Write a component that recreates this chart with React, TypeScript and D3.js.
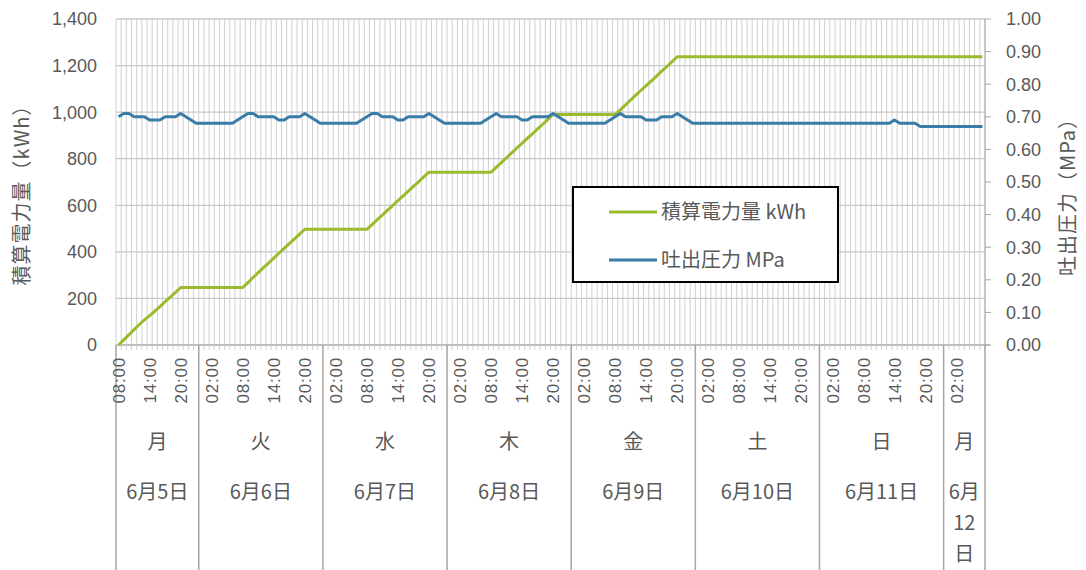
import React from "react";
import * as d3 from "d3";

// ---- data ----
const startHour = 8; // first category: 6/5 08:00, hourly categories
const hourLabels = ["00:00","01:00","02:00","03:00","04:00","05:00","06:00","07:00","08:00","09:00","10:00","11:00","12:00","13:00","14:00","15:00","16:00","17:00","18:00","19:00","20:00","21:00","22:00","23:00"];
const labeledHours = [2, 8, 14, 20];

const dayNames = ["月", "火", "水", "木", "金", "土", "日", "月"];
const dayDates = ["6月5日", "6月6日", "6月7日", "6月8日", "6月9日", "6月10日", "6月11日", "6月12日"];
const dayHours = [16, 24, 24, 24, 24, 24, 24, 8];

// 積算電力量 kWh (left axis)
const energyKWh = [
  0, 22, 44, 66, 88, 108, 126, 145, 165, 186, 206, 226, 247,
  247, 247, 247, 247, 247, 247, 247, 247, 247, 247, 247, 247,
  268, 290, 311, 332, 352, 373, 394, 415, 435, 456, 476, 497,
  497, 497, 497, 497, 497, 497, 497, 497, 497, 497, 497, 497,
  517, 538, 558, 579, 599, 620, 640, 661, 681, 701, 722, 742,
  742, 742, 742, 742, 742, 742, 742, 742, 742, 742, 742, 742,
  763, 783, 804, 825, 846, 866, 887, 907, 928, 948, 969, 990,
  990, 990, 990, 990, 990, 990, 990, 990, 990, 990, 990, 990,
  1010, 1031, 1052, 1073, 1094, 1114, 1134, 1155, 1176, 1196, 1217, 1238,
  1238, 1238, 1238, 1238, 1238, 1238, 1238, 1238, 1238, 1238, 1238, 1238,
  1238, 1238, 1238, 1238, 1238, 1238, 1238, 1238, 1238, 1238, 1238, 1238,
  1238, 1238, 1238, 1238, 1238, 1238, 1238, 1238, 1238, 1238, 1238, 1238,
  1238, 1238, 1238, 1238, 1238, 1238, 1238, 1238, 1238, 1238, 1238, 1238,
  1238, 1238, 1238, 1238, 1238, 1238, 1238, 1238, 1238, 1238, 1238,
];

// 吐出圧力 MPa (right axis)
const pressureMPa = [
  0.70, 0.71, 0.71, 0.70, 0.70, 0.70, 0.69, 0.69, 0.69, 0.70, 0.70, 0.70, 0.71, 0.70, 0.69,
  0.68, 0.68, 0.68, 0.68, 0.68, 0.68, 0.68, 0.68,
  0.69, 0.70, 0.71, 0.71, 0.70, 0.70, 0.70, 0.70, 0.69, 0.69, 0.70, 0.70, 0.70, 0.71, 0.70, 0.69,
  0.68, 0.68, 0.68, 0.68, 0.68, 0.68, 0.68, 0.68,
  0.69, 0.70, 0.71, 0.71, 0.70, 0.70, 0.70, 0.69, 0.69, 0.70, 0.70, 0.70, 0.70, 0.71, 0.70, 0.69,
  0.68, 0.68, 0.68, 0.68, 0.68, 0.68, 0.68, 0.68,
  0.69, 0.70, 0.71, 0.70, 0.70, 0.70, 0.70, 0.69, 0.69, 0.70, 0.70, 0.70, 0.70, 0.71, 0.70, 0.69,
  0.68, 0.68, 0.68, 0.68, 0.68, 0.68, 0.68, 0.68,
  0.69, 0.70, 0.71, 0.70, 0.70, 0.70, 0.70, 0.69, 0.69, 0.69, 0.70, 0.70, 0.70, 0.71, 0.70, 0.69,
  0.68, 0.68, 0.68, 0.68, 0.68, 0.68, 0.68, 0.68, 0.68, 0.68,
  0.68, 0.68, 0.68, 0.68, 0.68, 0.68, 0.68, 0.68, 0.68, 0.68,
  0.68, 0.68, 0.68, 0.68, 0.68, 0.68, 0.68, 0.68, 0.68, 0.68,
  0.68, 0.68, 0.68, 0.68, 0.68, 0.68, 0.68, 0.68, 0.68,
  0.69,
  0.68, 0.68, 0.68, 0.68,
  0.67, 0.67, 0.67, 0.67, 0.67, 0.67, 0.67, 0.67, 0.67, 0.67, 0.67, 0.67, 0.67,
];

const leftTicks = [0, 200, 400, 600, 800, 1000, 1200, 1400];
const rightTicks = [0, 0.1, 0.2, 0.3, 0.4, 0.5, 0.6, 0.7, 0.8, 0.9, 1.0];

const seriesNames = ["積算電力量 kWh", "吐出圧力 MPa"];
const leftTitle = "積算電力量（kWh）";
const rightTitle = "吐出圧力（MPa）";

// ---- style ----
const W = 1086, H = 570;
const plot = { left: 116, right: 985, top: 19, bottom: 345 };
const GREEN = "#9BBB2F";
const BLUE = "#3A7CA8";
const TEXT = "#595959";
const GRID = "#d0d0d0";
const HGRID = "#c8c8c8";
const AXIS = "#a6a6a6";
const NUM_FONT = "'Liberation Sans', 'Noto Sans CJK JP', sans-serif";
const CJK_FONT = "'Noto Sans CJK JP', 'Liberation Sans', sans-serif";

function wrapDate(s: string, maxW: number, fs: number): string[] {
  const tokens = s.match(/\d+|[^\d]/g) || [s];
  const tw = (t: string) => (/^\d+$/.test(t) ? t.length * fs * 0.55 : fs);
  const lines: string[] = [];
  let cur = "", curW = 0;
  for (const t of tokens) {
    const w = tw(t);
    if (cur && curW + w > maxW) { lines.push(cur); cur = t; curW = w; }
    else { cur += t; curW += w; }
  }
  if (cur) lines.push(cur);
  return lines;
}

export default function App() {
  const n = energyKWh.length;
  const x = d3.scaleLinear().domain([0, n]).range([plot.left, plot.right]);
  const yL = d3.scaleLinear().domain([0, 1400]).range([plot.bottom, plot.top]);
  const yR = d3.scaleLinear().domain([0, 1]).range([plot.bottom, plot.top]);

  const lineL = d3.line<number>().x((_, i) => x(i + 0.5)).y((d) => yL(d));
  const lineR = d3.line<number>().x((_, i) => x(i + 0.5)).y((d) => yR(d));

  const boundaries = d3.range(0, n + 1);
  const hourTicks = d3.range(0, n).filter((i) => labeledHours.includes((startHour + i) % 24));

  const dayStarts: number[] = [];
  let acc = 0;
  dayHours.forEach((h) => { dayStarts.push(acc); acc += h; });

  return (
    <svg width={W} height={H} style={{ position: "absolute", left: 0, top: 0, background: "#fff" }}>
      <rect x={0} y={0} width={W} height={H} fill="#fff" />
      {/* vertical gridlines */}
      {boundaries.map((b) => (
        <line key={"vg" + b} x1={x(b)} x2={x(b)} y1={plot.top} y2={plot.bottom} stroke={GRID} strokeWidth={1} />
      ))}
      {/* horizontal gridlines */}
      {leftTicks.map((t) => (
        <line key={"hg" + t} x1={plot.left} x2={plot.right} y1={yL(t)} y2={yL(t)} stroke={HGRID} strokeWidth={1.3} />
      ))}
      {/* x axis line with hourly ticks */}
      <line x1={plot.left} x2={plot.right + 5} y1={plot.bottom} y2={plot.bottom} stroke={AXIS} strokeWidth={1} />
      {boundaries.map((b) => (
        <line key={"xt" + b} x1={x(b)} x2={x(b)} y1={plot.bottom} y2={plot.bottom + 5} stroke={GRID} strokeWidth={1} />
      ))}
      {/* right axis */}
      <line x1={plot.right} x2={plot.right} y1={plot.top} y2={plot.bottom} stroke={AXIS} strokeWidth={1} />
      {rightTicks.map((t) => (
        <line key={"rt" + t} x1={plot.right} x2={plot.right + 6} y1={yR(t)} y2={yR(t)} stroke={AXIS} strokeWidth={1} />
      ))}
      {/* group separators */}
      {[...dayStarts, n].map((s, k) => (
        <line key={"sep" + k} x1={x(s)} x2={x(s)} y1={plot.bottom} y2={H} stroke={AXIS} strokeWidth={1.5} />
      ))}

      {/* series */}
      <path d={lineL(energyKWh) || ""} fill="none" stroke={GREEN} strokeWidth={3} strokeLinejoin="round" />
      <path d={lineR(pressureMPa) || ""} fill="none" stroke={BLUE} strokeWidth={3} strokeLinejoin="round" />

      {/* left tick labels */}
      {leftTicks.map((t) => (
        <text key={"lt" + t} x={97} y={yL(t)} dy="0.36em" textAnchor="end" fontSize={18} fill={TEXT} fontFamily={NUM_FONT}>
          {d3.format(",")(t)}
        </text>
      ))}
      {/* right tick labels */}
      {rightTicks.map((t) => (
        <text key={"rl" + t} x={1006} y={yR(t)} dy="0.36em" textAnchor="start" fontSize={18} fill={TEXT} fontFamily={NUM_FONT}>
          {d3.format(".2f")(t)}
        </text>
      ))}
      {/* axis titles */}
      <text transform={`translate(22,${190}) rotate(-90)`} textAnchor="middle" dy="0.35em" fontSize={20} fill={TEXT} fontFamily={CJK_FONT} letterSpacing={1}>
        {leftTitle}
      </text>
      <text transform={`translate(1068,${192}) rotate(-90)`} textAnchor="middle" dy="0.35em" fontSize={20} fill={TEXT} fontFamily={CJK_FONT} letterSpacing={1}>
        {rightTitle}
      </text>

      {/* hour labels */}
      {hourTicks.map((i) => (
        <text key={"hl" + i} transform={`translate(${x(i + 0.5)},${357}) rotate(-90)`} textAnchor="end" dy="0.36em" fontSize={17} fill={TEXT} fontFamily={NUM_FONT} letterSpacing={0.8}>
          {hourLabels[(startHour + i) % 24]}
        </text>
      ))}
      {/* day names & dates */}
      {dayStarts.map((s, k) => {
        const cx = (x(s) + x(s + dayHours[k])) / 2;
        const w = x(s + dayHours[k]) - x(s);
        const lines = wrapDate(dayDates[k], w - 4, 20);
        return (
          <g key={"day" + k}>
            <text x={cx} y={442} dy="0.35em" textAnchor="middle" fontSize={20} fill={TEXT} fontFamily={CJK_FONT}>
              {dayNames[k]}
            </text>
            {lines.map((ln, j) => (
              <text key={j} x={cx} y={492 + j * 31} dy="0.35em" textAnchor="middle" fontSize={20} fill={TEXT} fontFamily={CJK_FONT}>
                {ln}
              </text>
            ))}
          </g>
        );
      })}

      {/* legend */}
      <rect x={573} y={187} width={265} height={95} fill="#fff" stroke="#000" strokeWidth={2} />
      {seriesNames.map((nm, k) => (
        <g key={"lg" + k}>
          <line x1={609} x2={657} y1={212 + k * 48} y2={212 + k * 48} stroke={k === 0 ? GREEN : BLUE} strokeWidth={3} />
          <text x={661} y={212 + k * 48} dy="0.35em" fontSize={20} fill={TEXT} fontFamily={CJK_FONT}>
            {nm}
          </text>
        </g>
      ))}
    </svg>
  );
}
